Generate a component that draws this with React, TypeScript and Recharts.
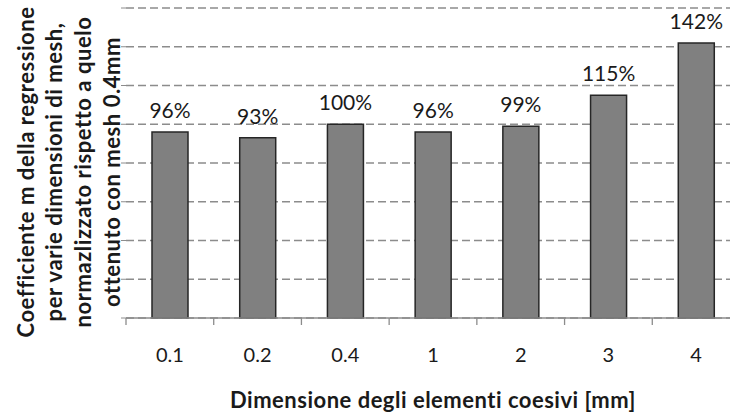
import { BarChart, Bar, XAxis, YAxis, CartesianGrid, LabelList } from "recharts";

const meshSizes = ["0.1", "0.2", "0.4", "1", "2", "3", "4"];
const mCoefficientRatio = [0.96, 0.93, 1.0, 0.96, 0.99, 1.15, 1.42];
const yTicks = [0, 0.2, 0.4, 0.6, 0.8, 1.0, 1.2, 1.4, 1.6];
const boundaryTicks = [0, 1, 2, 3, 4, 5, 6, 7];
const yTitleLines = [
  "Coefficiente m della regressione",
  "per varie dimensioni di mesh,",
  "normazlizzato rispetto a quelo",
  "ottenuto con mesh 0.4mm",
];
const xTitle = "Dimensione degli elementi coesivi [mm]";

const data = meshSizes.map((size, i) => ({
  size,
  pos: i + 0.5,
  ratio: mCoefficientRatio[i],
}));

const FONT = "Lato, 'Open Sans', sans-serif";
const INK = "#1a1a1a";

function YTitle(props: any) {
  const { viewBox } = props;
  const cy = viewBox.y + viewBox.height / 2 + 9;
  const firstX = 25;
  const step = 28.7;
  return (
    <g>
      {yTitleLines.map((line, i) => {
        const x = firstX + i * step;
        return (
          <text
            key={i}
            x={x}
            y={cy}
            transform={`rotate(-90, ${x}, ${cy})`}
            textAnchor="middle"
            dominantBaseline="central"
            fontFamily={FONT}
            fontWeight={700}
            fontSize={22}
            letterSpacing={0.55}
            fill={INK}
          >
            {line}
          </text>
        );
      })}
    </g>
  );
}

export default function App() {
  return (
    <div
      style={{
        position: "absolute",
        left: 0,
        top: 0,
        width: 730,
        height: 416,
        overflow: "hidden",
        background: "#fff",
      }}
    >
      <BarChart
        width={740}
        height={416}
        data={data}
        margin={{ top: 8, right: 0, left: 0, bottom: 0 }}
        barCategoryGap="0%"
      >
        <CartesianGrid
          vertical={false}
          stroke="#8c8c8c"
          strokeWidth={1.3}
          strokeDasharray="8 4"
        />
        {/* tick marks between categories */}
        <XAxis
          xAxisId="bounds"
          type="number"
          dataKey="pos"
          domain={[0, 7]}
          ticks={boundaryTicks}
          tickFormatter={() => ""}
          tickSize={7}
          stroke="#8c8c8c"
          strokeWidth={1.3}
          height={8}
          allowDataOverflow
        />
        <XAxis
          xAxisId="cat"
          dataKey="size"
          axisLine={false}
          tickLine={false}
          tickSize={0}
          tickMargin={22}
          height={90}
          tick={{ fontFamily: FONT, fontSize: 20, fill: INK }}
          label={{
            value: xTitle,
            position: "insideBottom",
            offset: 8,
            style: {
              fontFamily: FONT,
              fontWeight: 700,
              fontSize: 22,
              letterSpacing: 0.5,
              fill: INK,
            },
          }}
        />
        <YAxis
          width={126}
          domain={[0, 1.6]}
          ticks={yTicks}
          tickFormatter={() => ""}
          axisLine={false}
          tickSize={5}
          tickLine={{ stroke: "#8c8c8c" }}
          label={{ content: YTitle }}
        />
        <Bar
          xAxisId="cat"
          dataKey="ratio"
          barSize={36}
          fill="#808080"
          stroke="#262626"
          strokeWidth={1.5}
          isAnimationActive={false}
        >
          <LabelList
            dataKey="ratio"
            position="top"
            offset={14}
            formatter={(v: any) => `${Math.round(Number(v) * 100)}%`}
            style={{ fontFamily: FONT, fontSize: 21, fill: INK }}
          />
        </Bar>
      </BarChart>
    </div>
  );
}
